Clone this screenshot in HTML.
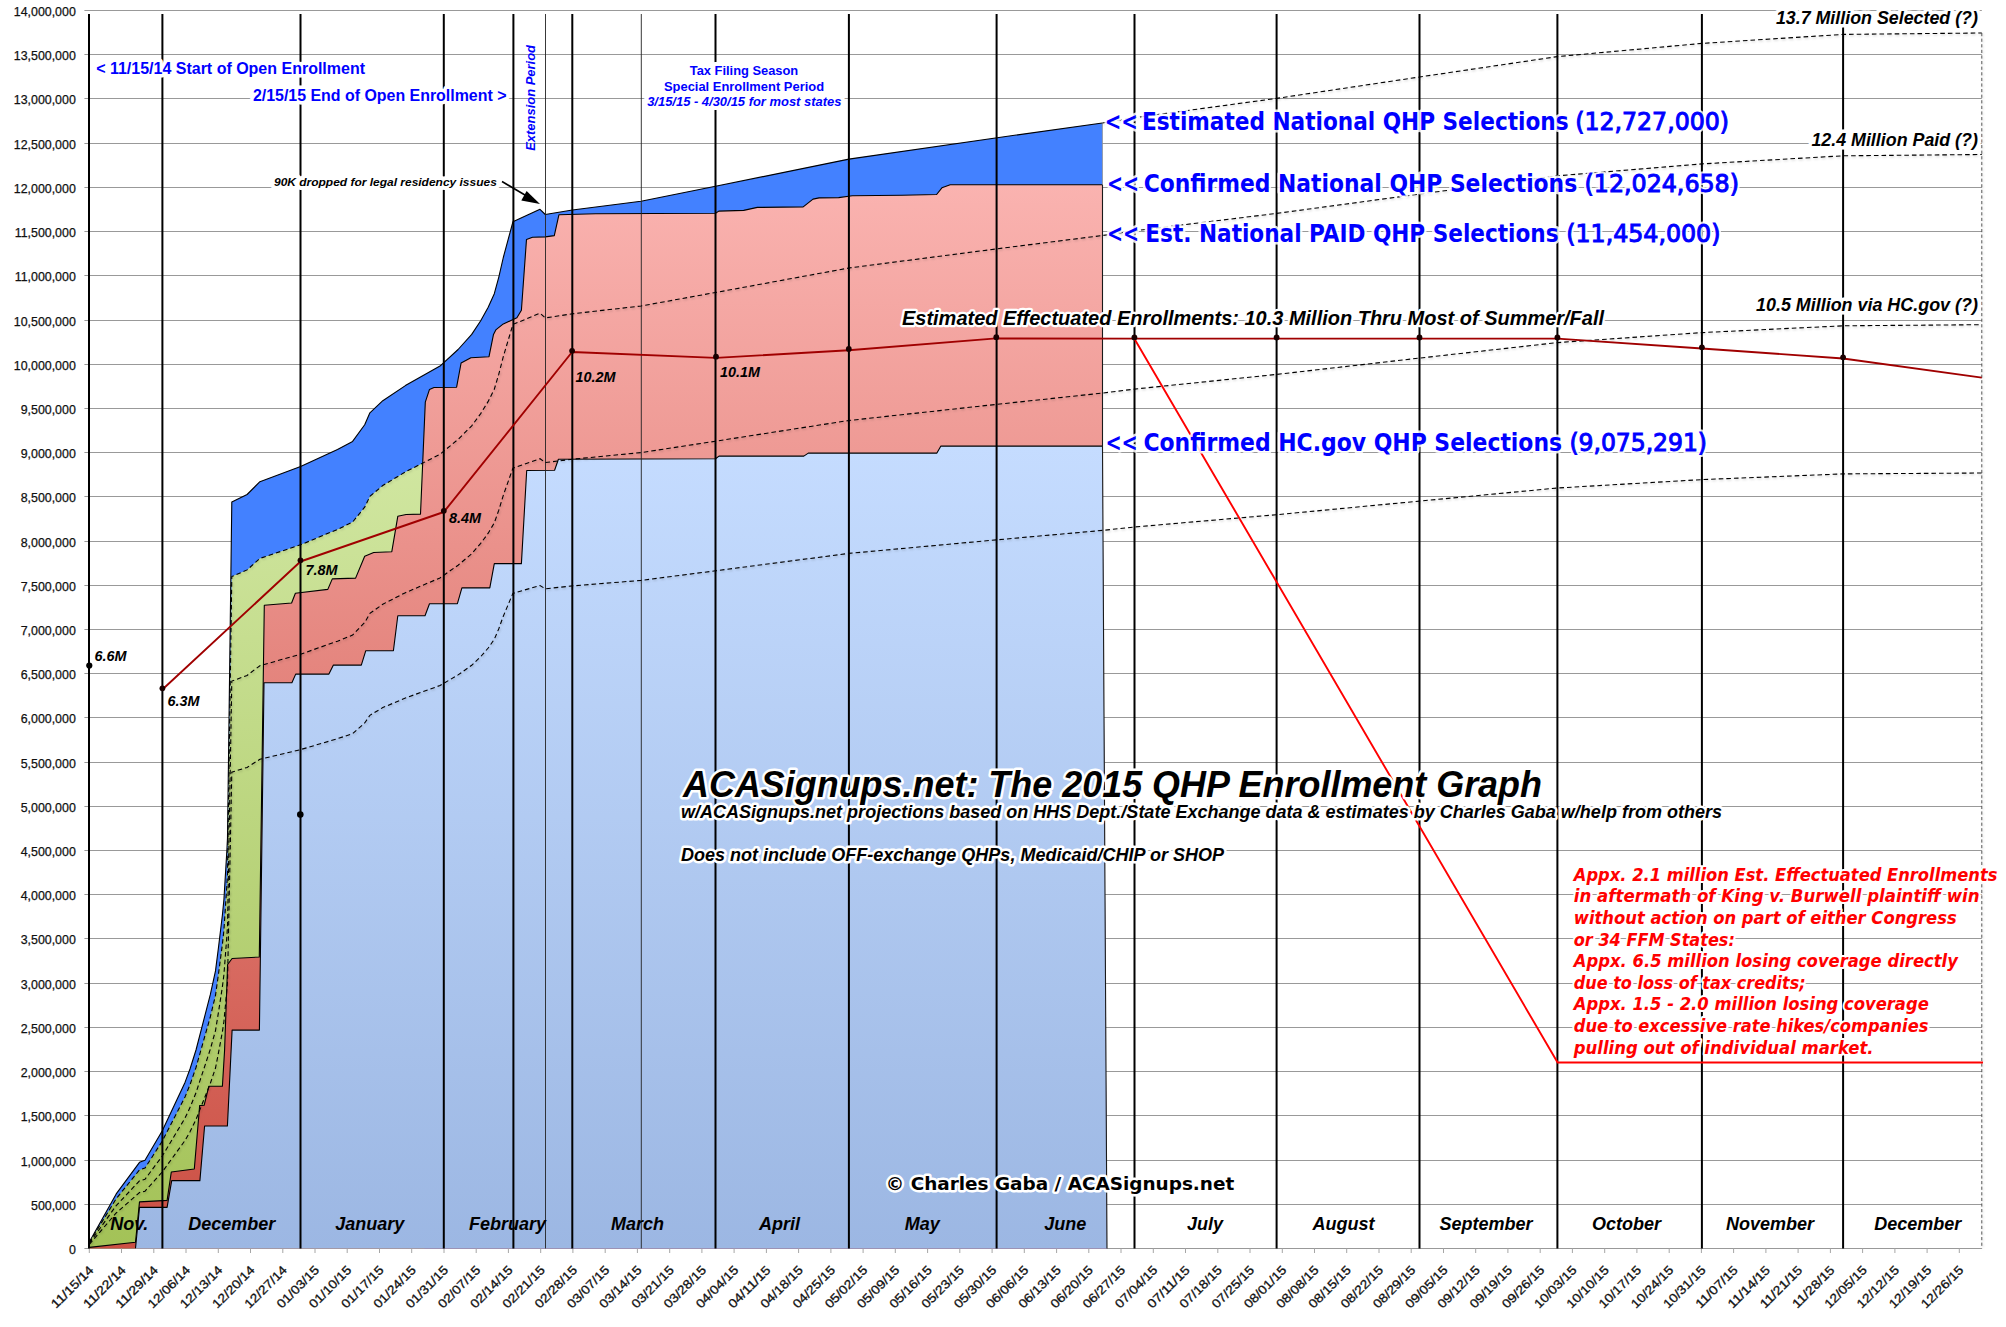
<!DOCTYPE html><html><head><meta charset="utf-8"><title>ACASignups.net: The 2015 QHP Enrollment Graph</title>
<style>html,body{margin:0;padding:0;background:#fff}svg{display:block}text{font-family:"Liberation Sans",sans-serif}.ax{font-size:12.4px;fill:#111;stroke:#111;stroke-width:0.25px}.xl{font-size:12.4px;fill:#111;stroke:#111;stroke-width:0.3px}.bi{font-weight:bold;font-style:italic}.lg{font-family:"DejaVu Sans","Liberation Sans",sans-serif;font-weight:bold}.halo{paint-order:stroke;stroke:#fff;stroke-linejoin:round}</style></head><body>
<svg width="2006" height="1327" viewBox="0 0 2006 1327">
<defs><linearGradient id="gR" gradientUnits="userSpaceOnUse" x1="0" y1="185" x2="0" y2="1248.45"><stop offset="0" stop-color="#FAB3B0"/><stop offset="1" stop-color="#CB4F43"/></linearGradient><linearGradient id="gB" gradientUnits="userSpaceOnUse" x1="0" y1="446" x2="0" y2="1248.45"><stop offset="0" stop-color="#C5DCFF"/><stop offset="1" stop-color="#9CB7E3"/></linearGradient><linearGradient id="gG" gradientUnits="userSpaceOnUse" x1="0" y1="465" x2="0" y2="1248.45"><stop offset="0" stop-color="#D0E6A0"/><stop offset="1" stop-color="#A3C257"/></linearGradient><filter id="sh" x="-5%" y="-50%" width="110%" height="200%"><feDropShadow dx="0.8" dy="1.2" stdDeviation="0.8" flood-color="#000" flood-opacity="0.22"/></filter></defs>
<rect width="2006" height="1327" fill="#fff"/>
<line x1="84.4" y1="1248.5" x2="1981.8" y2="1248.5" stroke="#999999" stroke-width="1.1"/><text class="ax" x="75.8" y="1254.1" text-anchor="end">0</text><line x1="84.4" y1="1204.5" x2="1981.8" y2="1204.5" stroke="#999999" stroke-width="1.1"/><text class="ax" x="75.8" y="1210.1" text-anchor="end">500,000</text><line x1="84.4" y1="1160.5" x2="1981.8" y2="1160.5" stroke="#999999" stroke-width="1.1"/><text class="ax" x="75.8" y="1166.1" text-anchor="end">1,000,000</text><line x1="84.4" y1="1115.5" x2="1981.8" y2="1115.5" stroke="#999999" stroke-width="1.1"/><text class="ax" x="75.8" y="1121.1" text-anchor="end">1,500,000</text><line x1="84.4" y1="1071.5" x2="1981.8" y2="1071.5" stroke="#999999" stroke-width="1.1"/><text class="ax" x="75.8" y="1077.1" text-anchor="end">2,000,000</text><line x1="84.4" y1="1027.5" x2="1981.8" y2="1027.5" stroke="#999999" stroke-width="1.1"/><text class="ax" x="75.8" y="1033.1" text-anchor="end">2,500,000</text><line x1="84.4" y1="983.5" x2="1981.8" y2="983.5" stroke="#999999" stroke-width="1.1"/><text class="ax" x="75.8" y="989.1" text-anchor="end">3,000,000</text><line x1="84.4" y1="938.5" x2="1981.8" y2="938.5" stroke="#999999" stroke-width="1.1"/><text class="ax" x="75.8" y="944.1" text-anchor="end">3,500,000</text><line x1="84.4" y1="894.5" x2="1981.8" y2="894.5" stroke="#999999" stroke-width="1.1"/><text class="ax" x="75.8" y="900.1" text-anchor="end">4,000,000</text><line x1="84.4" y1="850.5" x2="1981.8" y2="850.5" stroke="#999999" stroke-width="1.1"/><text class="ax" x="75.8" y="856.1" text-anchor="end">4,500,000</text><line x1="84.4" y1="806.5" x2="1981.8" y2="806.5" stroke="#999999" stroke-width="1.1"/><text class="ax" x="75.8" y="812.1" text-anchor="end">5,000,000</text><line x1="84.4" y1="762.5" x2="1981.8" y2="762.5" stroke="#999999" stroke-width="1.1"/><text class="ax" x="75.8" y="768.1" text-anchor="end">5,500,000</text><line x1="84.4" y1="717.5" x2="1981.8" y2="717.5" stroke="#999999" stroke-width="1.1"/><text class="ax" x="75.8" y="723.1" text-anchor="end">6,000,000</text><line x1="84.4" y1="673.5" x2="1981.8" y2="673.5" stroke="#999999" stroke-width="1.1"/><text class="ax" x="75.8" y="679.1" text-anchor="end">6,500,000</text><line x1="84.4" y1="629.5" x2="1981.8" y2="629.5" stroke="#999999" stroke-width="1.1"/><text class="ax" x="75.8" y="635.1" text-anchor="end">7,000,000</text><line x1="84.4" y1="585.5" x2="1981.8" y2="585.5" stroke="#999999" stroke-width="1.1"/><text class="ax" x="75.8" y="591.1" text-anchor="end">7,500,000</text><line x1="84.4" y1="541.5" x2="1981.8" y2="541.5" stroke="#999999" stroke-width="1.1"/><text class="ax" x="75.8" y="547.1" text-anchor="end">8,000,000</text><line x1="84.4" y1="496.5" x2="1981.8" y2="496.5" stroke="#999999" stroke-width="1.1"/><text class="ax" x="75.8" y="502.1" text-anchor="end">8,500,000</text><line x1="84.4" y1="452.5" x2="1981.8" y2="452.5" stroke="#999999" stroke-width="1.1"/><text class="ax" x="75.8" y="458.1" text-anchor="end">9,000,000</text><line x1="84.4" y1="408.5" x2="1981.8" y2="408.5" stroke="#999999" stroke-width="1.1"/><text class="ax" x="75.8" y="414.1" text-anchor="end">9,500,000</text><line x1="84.4" y1="364.5" x2="1981.8" y2="364.5" stroke="#999999" stroke-width="1.1"/><text class="ax" x="75.8" y="370.1" text-anchor="end">10,000,000</text><line x1="84.4" y1="320.5" x2="1981.8" y2="320.5" stroke="#999999" stroke-width="1.1"/><text class="ax" x="75.8" y="326.1" text-anchor="end">10,500,000</text><line x1="84.4" y1="275.5" x2="1981.8" y2="275.5" stroke="#999999" stroke-width="1.1"/><text class="ax" x="75.8" y="281.1" text-anchor="end">11,000,000</text><line x1="84.4" y1="231.5" x2="1981.8" y2="231.5" stroke="#999999" stroke-width="1.1"/><text class="ax" x="75.8" y="237.1" text-anchor="end">11,500,000</text><line x1="84.4" y1="187.5" x2="1981.8" y2="187.5" stroke="#999999" stroke-width="1.1"/><text class="ax" x="75.8" y="193.1" text-anchor="end">12,000,000</text><line x1="84.4" y1="143.5" x2="1981.8" y2="143.5" stroke="#999999" stroke-width="1.1"/><text class="ax" x="75.8" y="149.1" text-anchor="end">12,500,000</text><line x1="84.4" y1="98.5" x2="1981.8" y2="98.5" stroke="#999999" stroke-width="1.1"/><text class="ax" x="75.8" y="104.1" text-anchor="end">13,000,000</text><line x1="84.4" y1="54.5" x2="1981.8" y2="54.5" stroke="#999999" stroke-width="1.1"/><text class="ax" x="75.8" y="60.1" text-anchor="end">13,500,000</text><line x1="84.4" y1="10.5" x2="1981.8" y2="10.5" stroke="#999999" stroke-width="1.1"/><text class="ax" x="75.8" y="16.1" text-anchor="end">14,000,000</text>
<polygon points="89.3,1242.0 116.2,1193.9 139.5,1162.3 145.0,1160.3 162.3,1130.7 185.0,1082.4 190.0,1069.0 196.0,1050.0 210.3,994.7 215.5,970.9 218.6,946.5 222.4,915.0 223.9,899.7 226.9,850.0 227.5,838.0 231.8,502.0 247.1,494.5 259.9,481.7 300.6,466.6 337.5,449.5 352.6,441.4 364.7,424.8 369.9,412.8 382.8,400.7 405.4,385.6 440.0,366.1 458.1,349.5 471.7,334.4 480.7,320.8 488.2,307.3 494.3,293.7 498.8,277.1 503.3,257.5 512.9,221.8 540.0,209.3 545.3,214.5 572.4,210.0 641.0,201.3 715.5,186.3 848.9,159.1 997.2,137.7 1102.4,123.0 1102.5,446.1 1107.0,1248.5 89.3,1248.5" fill="#4381FF"/><polyline points="89.3,1242.0 116.2,1193.9 139.5,1162.3 145.0,1160.3 162.3,1130.7 185.0,1082.4 190.0,1069.0 196.0,1050.0 210.3,994.7 215.5,970.9 218.6,946.5 222.4,915.0 223.9,899.7 226.9,850.0 227.5,838.0 231.8,502.0 247.1,494.5 259.9,481.7 300.6,466.6 337.5,449.5 352.6,441.4 364.7,424.8 369.9,412.8 382.8,400.7 405.4,385.6 440.0,366.1 458.1,349.5 471.7,334.4 480.7,320.8 488.2,307.3 494.3,293.7 498.8,277.1 503.3,257.5 512.9,221.8 540.0,209.3 545.3,214.5 572.4,210.0 641.0,201.3 715.5,186.3 848.9,159.1 997.2,137.7 1102.4,123.0" fill="none" stroke="#000" stroke-width="1.1" stroke-linejoin="round"/>
<polygon points="89.3,1242.6 116.2,1198.7 139.5,1169.9 145.0,1168.1 162.3,1141.1 185.0,1097.0 190.0,1084.8 196.0,1067.5 210.3,1017.0 215.5,995.3 218.6,973.1 222.4,944.3 223.9,930.4 226.9,885.1 227.5,874.1 231.8,576.6 247.1,569.9 259.9,558.4 300.6,544.8 337.5,529.4 352.6,522.1 364.7,507.2 369.9,496.4 382.8,485.5 405.4,471.9 424.5,462.2 424.5,1248.5 89.3,1248.5" fill="url(#gG)"/>
<polygon points="89.3,1247.4 135.5,1242.2 139.5,1201.9 167.1,1200.4 171.3,1172.0 194.3,1169.0 199.5,1107.5 199.6,1105.6 204.1,1105.3 208.9,1086.2 222.4,1086.2 224.6,1050.0 227.6,964.5 232.1,958.5 259.3,957.0 264.3,605.2 291.6,603.0 295.4,593.2 327.8,589.4 332.3,578.9 355.6,578.1 364.7,556.3 373.7,552.5 391.8,551.7 397.8,516.3 406.1,514.5 420.5,514.1 425.3,402.2 429.5,389.4 434.0,387.5 456.6,387.2 461.1,363.0 470.9,357.8 489.0,356.7 493.5,334.4 495.8,329.9 503.3,323.9 516.9,317.8 521.4,310.3 526.5,239.4 532.5,237.2 545.3,236.9 554.3,235.6 558.9,214.8 595.8,213.8 715.5,213.2 718.8,211.1 743.7,210.4 757.3,207.4 803.2,206.9 813.0,199.1 819.1,197.9 838.7,197.6 852.2,195.7 902.0,195.3 936.6,194.5 941.9,187.8 950.2,184.8 1102.4,184.8 1102.5,446.1 1107.0,1248.5 89.3,1248.5" fill="url(#gR)"/><polyline points="89.3,1247.4 135.5,1242.2 139.5,1201.9 167.1,1200.4 171.3,1172.0 194.3,1169.0 199.5,1107.5 199.6,1105.6 204.1,1105.3 208.9,1086.2 222.4,1086.2 224.6,1050.0 227.6,964.5 232.1,958.5 259.3,957.0 264.3,605.2 291.6,603.0 295.4,593.2 327.8,589.4 332.3,578.9 355.6,578.1 364.7,556.3 373.7,552.5 391.8,551.7 397.8,516.3 406.1,514.5 420.5,514.1 425.3,402.2 429.5,389.4 434.0,387.5 456.6,387.2 461.1,363.0 470.9,357.8 489.0,356.7 493.5,334.4 495.8,329.9 503.3,323.9 516.9,317.8 521.4,310.3 526.5,239.4 532.5,237.2 545.3,236.9 554.3,235.6 558.9,214.8 595.8,213.8 715.5,213.2 718.8,211.1 743.7,210.4 757.3,207.4 803.2,206.9 813.0,199.1 819.1,197.9 838.7,197.6 852.2,195.7 902.0,195.3 936.6,194.5 941.9,187.8 950.2,184.8 1102.4,184.8" fill="none" stroke="#000" stroke-width="1.1" stroke-linejoin="round"/>
<polygon points="135.5,1248.2 139.5,1207.4 167.1,1207.4 171.7,1180.6 199.9,1180.6 204.6,1126.0 227.4,1126.0 232.1,1030.1 259.4,1030.1 264.0,682.8 291.9,682.8 295.7,674.1 328.9,674.1 333.4,665.1 361.3,665.1 365.8,650.7 393.4,650.7 397.8,615.8 425.0,615.8 429.5,603.7 457.4,603.7 461.9,587.9 489.8,587.9 494.3,563.6 521.4,563.6 526.7,470.5 554.6,470.2 558.4,459.2 715.5,458.8 719.0,456.1 803.8,456.1 808.3,453.1 936.9,453.1 940.9,446.1 1102.4,446.1 1102.5,446.1 1107.0,1248.5 135.5,1248.5" fill="url(#gB)"/><polyline points="135.5,1248.2 139.5,1207.4 167.1,1207.4 171.7,1180.6 199.9,1180.6 204.6,1126.0 227.4,1126.0 232.1,1030.1 259.4,1030.1 264.0,682.8 291.9,682.8 295.7,674.1 328.9,674.1 333.4,665.1 361.3,665.1 365.8,650.7 393.4,650.7 397.8,615.8 425.0,615.8 429.5,603.7 457.4,603.7 461.9,587.9 489.8,587.9 494.3,563.6 521.4,563.6 526.7,470.5 554.6,470.2 558.4,459.2 715.5,458.8 719.0,456.1 803.8,456.1 808.3,453.1 936.9,453.1 940.9,446.1 1102.4,446.1" fill="none" stroke="#000" stroke-width="1.1" stroke-linejoin="round"/>
<line x1="1102.4" y1="123" x2="1102.5" y2="184.8" stroke="#8a8f98" stroke-width="0.8"/>
<polyline points="1102.5,184.8 1102.5,446.1 1107,1248.45" fill="none" stroke="#1a1a1a" stroke-width="1.1"/>
<line x1="89.3" y1="1248.45" x2="89.3" y2="1253.0" stroke="#a6a6a6" stroke-width="1"/><text class="xl" textLength="54" lengthAdjust="spacingAndGlyphs" transform="translate(94.3,1270.9) rotate(-45) translate(-54,0)">11/15/14</text><line x1="121.5" y1="1248.45" x2="121.5" y2="1253.0" stroke="#a6a6a6" stroke-width="1"/><text class="xl" textLength="54" lengthAdjust="spacingAndGlyphs" transform="translate(126.5,1270.9) rotate(-45) translate(-54,0)">11/22/14</text><line x1="153.8" y1="1248.45" x2="153.8" y2="1253.0" stroke="#a6a6a6" stroke-width="1"/><text class="xl" textLength="54" lengthAdjust="spacingAndGlyphs" transform="translate(158.8,1270.9) rotate(-45) translate(-54,0)">11/29/14</text><line x1="186.0" y1="1248.45" x2="186.0" y2="1253.0" stroke="#a6a6a6" stroke-width="1"/><text class="xl" textLength="54" lengthAdjust="spacingAndGlyphs" transform="translate(191.0,1270.9) rotate(-45) translate(-54,0)">12/06/14</text><line x1="218.3" y1="1248.45" x2="218.3" y2="1253.0" stroke="#a6a6a6" stroke-width="1"/><text class="xl" textLength="54" lengthAdjust="spacingAndGlyphs" transform="translate(223.3,1270.9) rotate(-45) translate(-54,0)">12/13/14</text><line x1="250.5" y1="1248.45" x2="250.5" y2="1253.0" stroke="#a6a6a6" stroke-width="1"/><text class="xl" textLength="54" lengthAdjust="spacingAndGlyphs" transform="translate(255.5,1270.9) rotate(-45) translate(-54,0)">12/20/14</text><line x1="282.8" y1="1248.45" x2="282.8" y2="1253.0" stroke="#a6a6a6" stroke-width="1"/><text class="xl" textLength="54" lengthAdjust="spacingAndGlyphs" transform="translate(287.8,1270.9) rotate(-45) translate(-54,0)">12/27/14</text><line x1="315.0" y1="1248.45" x2="315.0" y2="1253.0" stroke="#a6a6a6" stroke-width="1"/><text class="xl" textLength="54" lengthAdjust="spacingAndGlyphs" transform="translate(320.0,1270.9) rotate(-45) translate(-54,0)">01/03/15</text><line x1="347.2" y1="1248.45" x2="347.2" y2="1253.0" stroke="#a6a6a6" stroke-width="1"/><text class="xl" textLength="54" lengthAdjust="spacingAndGlyphs" transform="translate(352.2,1270.9) rotate(-45) translate(-54,0)">01/10/15</text><line x1="379.5" y1="1248.45" x2="379.5" y2="1253.0" stroke="#a6a6a6" stroke-width="1"/><text class="xl" textLength="54" lengthAdjust="spacingAndGlyphs" transform="translate(384.5,1270.9) rotate(-45) translate(-54,0)">01/17/15</text><line x1="411.7" y1="1248.45" x2="411.7" y2="1253.0" stroke="#a6a6a6" stroke-width="1"/><text class="xl" textLength="54" lengthAdjust="spacingAndGlyphs" transform="translate(416.7,1270.9) rotate(-45) translate(-54,0)">01/24/15</text><line x1="444.0" y1="1248.45" x2="444.0" y2="1253.0" stroke="#a6a6a6" stroke-width="1"/><text class="xl" textLength="54" lengthAdjust="spacingAndGlyphs" transform="translate(449.0,1270.9) rotate(-45) translate(-54,0)">01/31/15</text><line x1="476.2" y1="1248.45" x2="476.2" y2="1253.0" stroke="#a6a6a6" stroke-width="1"/><text class="xl" textLength="54" lengthAdjust="spacingAndGlyphs" transform="translate(481.2,1270.9) rotate(-45) translate(-54,0)">02/07/15</text><line x1="508.4" y1="1248.45" x2="508.4" y2="1253.0" stroke="#a6a6a6" stroke-width="1"/><text class="xl" textLength="54" lengthAdjust="spacingAndGlyphs" transform="translate(513.4,1270.9) rotate(-45) translate(-54,0)">02/14/15</text><line x1="540.7" y1="1248.45" x2="540.7" y2="1253.0" stroke="#a6a6a6" stroke-width="1"/><text class="xl" textLength="54" lengthAdjust="spacingAndGlyphs" transform="translate(545.7,1270.9) rotate(-45) translate(-54,0)">02/21/15</text><line x1="572.9" y1="1248.45" x2="572.9" y2="1253.0" stroke="#a6a6a6" stroke-width="1"/><text class="xl" textLength="54" lengthAdjust="spacingAndGlyphs" transform="translate(577.9,1270.9) rotate(-45) translate(-54,0)">02/28/15</text><line x1="605.2" y1="1248.45" x2="605.2" y2="1253.0" stroke="#a6a6a6" stroke-width="1"/><text class="xl" textLength="54" lengthAdjust="spacingAndGlyphs" transform="translate(610.2,1270.9) rotate(-45) translate(-54,0)">03/07/15</text><line x1="637.4" y1="1248.45" x2="637.4" y2="1253.0" stroke="#a6a6a6" stroke-width="1"/><text class="xl" textLength="54" lengthAdjust="spacingAndGlyphs" transform="translate(642.4,1270.9) rotate(-45) translate(-54,0)">03/14/15</text><line x1="669.7" y1="1248.45" x2="669.7" y2="1253.0" stroke="#a6a6a6" stroke-width="1"/><text class="xl" textLength="54" lengthAdjust="spacingAndGlyphs" transform="translate(674.7,1270.9) rotate(-45) translate(-54,0)">03/21/15</text><line x1="701.9" y1="1248.45" x2="701.9" y2="1253.0" stroke="#a6a6a6" stroke-width="1"/><text class="xl" textLength="54" lengthAdjust="spacingAndGlyphs" transform="translate(706.9,1270.9) rotate(-45) translate(-54,0)">03/28/15</text><line x1="734.1" y1="1248.45" x2="734.1" y2="1253.0" stroke="#a6a6a6" stroke-width="1"/><text class="xl" textLength="54" lengthAdjust="spacingAndGlyphs" transform="translate(739.1,1270.9) rotate(-45) translate(-54,0)">04/04/15</text><line x1="766.4" y1="1248.45" x2="766.4" y2="1253.0" stroke="#a6a6a6" stroke-width="1"/><text class="xl" textLength="54" lengthAdjust="spacingAndGlyphs" transform="translate(771.4,1270.9) rotate(-45) translate(-54,0)">04/11/15</text><line x1="798.6" y1="1248.45" x2="798.6" y2="1253.0" stroke="#a6a6a6" stroke-width="1"/><text class="xl" textLength="54" lengthAdjust="spacingAndGlyphs" transform="translate(803.6,1270.9) rotate(-45) translate(-54,0)">04/18/15</text><line x1="830.9" y1="1248.45" x2="830.9" y2="1253.0" stroke="#a6a6a6" stroke-width="1"/><text class="xl" textLength="54" lengthAdjust="spacingAndGlyphs" transform="translate(835.9,1270.9) rotate(-45) translate(-54,0)">04/25/15</text><line x1="863.1" y1="1248.45" x2="863.1" y2="1253.0" stroke="#a6a6a6" stroke-width="1"/><text class="xl" textLength="54" lengthAdjust="spacingAndGlyphs" transform="translate(868.1,1270.9) rotate(-45) translate(-54,0)">05/02/15</text><line x1="895.3" y1="1248.45" x2="895.3" y2="1253.0" stroke="#a6a6a6" stroke-width="1"/><text class="xl" textLength="54" lengthAdjust="spacingAndGlyphs" transform="translate(900.3,1270.9) rotate(-45) translate(-54,0)">05/09/15</text><line x1="927.6" y1="1248.45" x2="927.6" y2="1253.0" stroke="#a6a6a6" stroke-width="1"/><text class="xl" textLength="54" lengthAdjust="spacingAndGlyphs" transform="translate(932.6,1270.9) rotate(-45) translate(-54,0)">05/16/15</text><line x1="959.8" y1="1248.45" x2="959.8" y2="1253.0" stroke="#a6a6a6" stroke-width="1"/><text class="xl" textLength="54" lengthAdjust="spacingAndGlyphs" transform="translate(964.8,1270.9) rotate(-45) translate(-54,0)">05/23/15</text><line x1="992.1" y1="1248.45" x2="992.1" y2="1253.0" stroke="#a6a6a6" stroke-width="1"/><text class="xl" textLength="54" lengthAdjust="spacingAndGlyphs" transform="translate(997.1,1270.9) rotate(-45) translate(-54,0)">05/30/15</text><line x1="1024.3" y1="1248.45" x2="1024.3" y2="1253.0" stroke="#a6a6a6" stroke-width="1"/><text class="xl" textLength="54" lengthAdjust="spacingAndGlyphs" transform="translate(1029.3,1270.9) rotate(-45) translate(-54,0)">06/06/15</text><line x1="1056.6" y1="1248.45" x2="1056.6" y2="1253.0" stroke="#a6a6a6" stroke-width="1"/><text class="xl" textLength="54" lengthAdjust="spacingAndGlyphs" transform="translate(1061.6,1270.9) rotate(-45) translate(-54,0)">06/13/15</text><line x1="1088.8" y1="1248.45" x2="1088.8" y2="1253.0" stroke="#a6a6a6" stroke-width="1"/><text class="xl" textLength="54" lengthAdjust="spacingAndGlyphs" transform="translate(1093.8,1270.9) rotate(-45) translate(-54,0)">06/20/15</text><line x1="1121.0" y1="1248.45" x2="1121.0" y2="1253.0" stroke="#a6a6a6" stroke-width="1"/><text class="xl" textLength="54" lengthAdjust="spacingAndGlyphs" transform="translate(1126.0,1270.9) rotate(-45) translate(-54,0)">06/27/15</text><line x1="1153.3" y1="1248.45" x2="1153.3" y2="1253.0" stroke="#a6a6a6" stroke-width="1"/><text class="xl" textLength="54" lengthAdjust="spacingAndGlyphs" transform="translate(1158.3,1270.9) rotate(-45) translate(-54,0)">07/04/15</text><line x1="1185.5" y1="1248.45" x2="1185.5" y2="1253.0" stroke="#a6a6a6" stroke-width="1"/><text class="xl" textLength="54" lengthAdjust="spacingAndGlyphs" transform="translate(1190.5,1270.9) rotate(-45) translate(-54,0)">07/11/15</text><line x1="1217.8" y1="1248.45" x2="1217.8" y2="1253.0" stroke="#a6a6a6" stroke-width="1"/><text class="xl" textLength="54" lengthAdjust="spacingAndGlyphs" transform="translate(1222.8,1270.9) rotate(-45) translate(-54,0)">07/18/15</text><line x1="1250.0" y1="1248.45" x2="1250.0" y2="1253.0" stroke="#a6a6a6" stroke-width="1"/><text class="xl" textLength="54" lengthAdjust="spacingAndGlyphs" transform="translate(1255.0,1270.9) rotate(-45) translate(-54,0)">07/25/15</text><line x1="1282.3" y1="1248.45" x2="1282.3" y2="1253.0" stroke="#a6a6a6" stroke-width="1"/><text class="xl" textLength="54" lengthAdjust="spacingAndGlyphs" transform="translate(1287.3,1270.9) rotate(-45) translate(-54,0)">08/01/15</text><line x1="1314.5" y1="1248.45" x2="1314.5" y2="1253.0" stroke="#a6a6a6" stroke-width="1"/><text class="xl" textLength="54" lengthAdjust="spacingAndGlyphs" transform="translate(1319.5,1270.9) rotate(-45) translate(-54,0)">08/08/15</text><line x1="1346.7" y1="1248.45" x2="1346.7" y2="1253.0" stroke="#a6a6a6" stroke-width="1"/><text class="xl" textLength="54" lengthAdjust="spacingAndGlyphs" transform="translate(1351.7,1270.9) rotate(-45) translate(-54,0)">08/15/15</text><line x1="1379.0" y1="1248.45" x2="1379.0" y2="1253.0" stroke="#a6a6a6" stroke-width="1"/><text class="xl" textLength="54" lengthAdjust="spacingAndGlyphs" transform="translate(1384.0,1270.9) rotate(-45) translate(-54,0)">08/22/15</text><line x1="1411.2" y1="1248.45" x2="1411.2" y2="1253.0" stroke="#a6a6a6" stroke-width="1"/><text class="xl" textLength="54" lengthAdjust="spacingAndGlyphs" transform="translate(1416.2,1270.9) rotate(-45) translate(-54,0)">08/29/15</text><line x1="1443.5" y1="1248.45" x2="1443.5" y2="1253.0" stroke="#a6a6a6" stroke-width="1"/><text class="xl" textLength="54" lengthAdjust="spacingAndGlyphs" transform="translate(1448.5,1270.9) rotate(-45) translate(-54,0)">09/05/15</text><line x1="1475.7" y1="1248.45" x2="1475.7" y2="1253.0" stroke="#a6a6a6" stroke-width="1"/><text class="xl" textLength="54" lengthAdjust="spacingAndGlyphs" transform="translate(1480.7,1270.9) rotate(-45) translate(-54,0)">09/12/15</text><line x1="1507.9" y1="1248.45" x2="1507.9" y2="1253.0" stroke="#a6a6a6" stroke-width="1"/><text class="xl" textLength="54" lengthAdjust="spacingAndGlyphs" transform="translate(1512.9,1270.9) rotate(-45) translate(-54,0)">09/19/15</text><line x1="1540.2" y1="1248.45" x2="1540.2" y2="1253.0" stroke="#a6a6a6" stroke-width="1"/><text class="xl" textLength="54" lengthAdjust="spacingAndGlyphs" transform="translate(1545.2,1270.9) rotate(-45) translate(-54,0)">09/26/15</text><line x1="1572.4" y1="1248.45" x2="1572.4" y2="1253.0" stroke="#a6a6a6" stroke-width="1"/><text class="xl" textLength="54" lengthAdjust="spacingAndGlyphs" transform="translate(1577.4,1270.9) rotate(-45) translate(-54,0)">10/03/15</text><line x1="1604.7" y1="1248.45" x2="1604.7" y2="1253.0" stroke="#a6a6a6" stroke-width="1"/><text class="xl" textLength="54" lengthAdjust="spacingAndGlyphs" transform="translate(1609.7,1270.9) rotate(-45) translate(-54,0)">10/10/15</text><line x1="1636.9" y1="1248.45" x2="1636.9" y2="1253.0" stroke="#a6a6a6" stroke-width="1"/><text class="xl" textLength="54" lengthAdjust="spacingAndGlyphs" transform="translate(1641.9,1270.9) rotate(-45) translate(-54,0)">10/17/15</text><line x1="1669.2" y1="1248.45" x2="1669.2" y2="1253.0" stroke="#a6a6a6" stroke-width="1"/><text class="xl" textLength="54" lengthAdjust="spacingAndGlyphs" transform="translate(1674.2,1270.9) rotate(-45) translate(-54,0)">10/24/15</text><line x1="1701.4" y1="1248.45" x2="1701.4" y2="1253.0" stroke="#a6a6a6" stroke-width="1"/><text class="xl" textLength="54" lengthAdjust="spacingAndGlyphs" transform="translate(1706.4,1270.9) rotate(-45) translate(-54,0)">10/31/15</text><line x1="1733.6" y1="1248.45" x2="1733.6" y2="1253.0" stroke="#a6a6a6" stroke-width="1"/><text class="xl" textLength="54" lengthAdjust="spacingAndGlyphs" transform="translate(1738.6,1270.9) rotate(-45) translate(-54,0)">11/07/15</text><line x1="1765.9" y1="1248.45" x2="1765.9" y2="1253.0" stroke="#a6a6a6" stroke-width="1"/><text class="xl" textLength="54" lengthAdjust="spacingAndGlyphs" transform="translate(1770.9,1270.9) rotate(-45) translate(-54,0)">11/14/15</text><line x1="1798.1" y1="1248.45" x2="1798.1" y2="1253.0" stroke="#a6a6a6" stroke-width="1"/><text class="xl" textLength="54" lengthAdjust="spacingAndGlyphs" transform="translate(1803.1,1270.9) rotate(-45) translate(-54,0)">11/21/15</text><line x1="1830.4" y1="1248.45" x2="1830.4" y2="1253.0" stroke="#a6a6a6" stroke-width="1"/><text class="xl" textLength="54" lengthAdjust="spacingAndGlyphs" transform="translate(1835.4,1270.9) rotate(-45) translate(-54,0)">11/28/15</text><line x1="1862.6" y1="1248.45" x2="1862.6" y2="1253.0" stroke="#a6a6a6" stroke-width="1"/><text class="xl" textLength="54" lengthAdjust="spacingAndGlyphs" transform="translate(1867.6,1270.9) rotate(-45) translate(-54,0)">12/05/15</text><line x1="1894.9" y1="1248.45" x2="1894.9" y2="1253.0" stroke="#a6a6a6" stroke-width="1"/><text class="xl" textLength="54" lengthAdjust="spacingAndGlyphs" transform="translate(1899.9,1270.9) rotate(-45) translate(-54,0)">12/12/15</text><line x1="1927.1" y1="1248.45" x2="1927.1" y2="1253.0" stroke="#a6a6a6" stroke-width="1"/><text class="xl" textLength="54" lengthAdjust="spacingAndGlyphs" transform="translate(1932.1,1270.9) rotate(-45) translate(-54,0)">12/19/15</text><line x1="1959.3" y1="1248.45" x2="1959.3" y2="1253.0" stroke="#a6a6a6" stroke-width="1"/><text class="xl" textLength="54" lengthAdjust="spacingAndGlyphs" transform="translate(1964.3,1270.9) rotate(-45) translate(-54,0)">12/26/15</text>
<line x1="89.0" y1="14" x2="89.0" y2="1248.45" stroke="#000" stroke-width="2"/><line x1="162.4" y1="14" x2="162.4" y2="1248.45" stroke="#000" stroke-width="2"/><line x1="300.5" y1="14" x2="300.5" y2="1248.45" stroke="#000" stroke-width="2"/><line x1="443.8" y1="14" x2="443.8" y2="1248.45" stroke="#000" stroke-width="2"/><line x1="513.4" y1="14" x2="513.4" y2="1248.45" stroke="#000" stroke-width="2"/><line x1="572.3" y1="14" x2="572.3" y2="1248.45" stroke="#000" stroke-width="2"/><line x1="715.5" y1="14" x2="715.5" y2="1248.45" stroke="#000" stroke-width="2"/><line x1="848.9" y1="14" x2="848.9" y2="1248.45" stroke="#000" stroke-width="2"/><line x1="996.6" y1="14" x2="996.6" y2="1248.45" stroke="#000" stroke-width="2"/><line x1="1134.5" y1="14" x2="1134.5" y2="1248.45" stroke="#000" stroke-width="2"/><line x1="1276.6" y1="14" x2="1276.6" y2="1248.45" stroke="#000" stroke-width="2"/><line x1="1419.5" y1="14" x2="1419.5" y2="1248.45" stroke="#000" stroke-width="2"/><line x1="1557.4" y1="14" x2="1557.4" y2="1248.45" stroke="#000" stroke-width="2"/><line x1="1701.9" y1="14" x2="1701.9" y2="1248.45" stroke="#000" stroke-width="2"/><line x1="1843.1" y1="14" x2="1843.1" y2="1248.45" stroke="#000" stroke-width="2"/><line x1="545.5" y1="14" x2="545.5" y2="1248.45" stroke="#222" stroke-width="0.9"/><line x1="641.3" y1="14" x2="641.3" y2="1248.45" stroke="#222" stroke-width="0.9"/>
<g filter="url(#sh)">
<polyline points="1102.4,123.0 1134.5,117.7 1276.6,98.4 1419.5,77.0 1557.4,56.6 1701.9,43.4 1843.1,34.4 1981.8,33.0" fill="none" stroke="#000" stroke-width="1.1" stroke-dasharray="4.6 3"/>
<polyline points="89.3,1242.6 116.2,1198.7 139.5,1169.9 145.0,1168.1 162.3,1141.1 185.0,1097.0 190.0,1084.8 196.0,1067.5 210.3,1017.0 215.5,995.3 218.6,973.1 222.4,944.3 223.9,930.4 226.9,885.1 227.5,874.1 231.8,576.6 247.1,569.9 259.9,558.4 300.6,544.8 337.5,529.4 352.6,522.1 364.7,507.2 369.9,496.4 382.8,485.5 405.4,471.9 440.0,454.3 458.1,439.4 471.7,425.8 480.7,413.6 488.2,401.4 494.3,389.2 498.8,374.2 503.3,356.6 512.9,324.5 540.0,313.2 545.3,317.9 572.4,313.8 641.0,306.0 715.5,292.5 848.9,268.0 997.2,248.8 1102.4,235.5 1134.5,230.8 1276.6,213.4 1419.5,194.1 1557.4,175.8 1701.9,163.9 1843.1,155.8 1981.8,154.5" fill="none" stroke="#000" stroke-width="1.1" stroke-dasharray="4.6 3"/>
<polyline points="89.3,1243.4 116.2,1205.6 139.5,1180.8 145.0,1179.3 162.3,1156.0 185.0,1118.1 190.0,1107.6 196.0,1092.7 210.3,1049.3 215.5,1030.6 218.6,1011.4 222.4,986.7 223.9,974.7 226.9,935.7 227.5,926.2 231.8,681.1 247.1,675.4 259.9,665.7 300.6,654.2 337.5,641.2 352.6,635.1 364.7,622.5 369.9,613.4 382.8,604.2 405.4,592.7 440.0,577.9 458.1,565.2 471.7,553.8 480.7,543.4 488.2,533.2 494.3,522.8 498.8,510.2 503.3,495.3 512.9,468.2 540.0,458.7 545.3,462.6 572.4,459.2 641.0,452.6 715.5,441.2 848.9,420.5 997.2,404.3 1102.4,393.1 1134.5,389.1 1276.6,374.4 1419.5,358.1 1557.4,342.6 1701.9,332.6 1843.1,325.8 1981.8,324.7" fill="none" stroke="#000" stroke-width="1.1" stroke-dasharray="4.6 3"/>
<polyline points="89.3,1244.3 116.2,1213.0 139.5,1192.5 145.0,1191.2 162.3,1171.9 185.0,1140.5 190.0,1131.8 196.0,1119.5 210.3,1083.5 215.5,1068.0 218.6,1052.2 222.4,1031.7 223.9,1021.8 226.9,989.5 227.5,981.7 231.8,772.2 247.1,767.4 259.9,759.3 300.6,749.6 337.5,738.7 352.6,733.6 364.7,723.0 369.9,715.3 382.8,707.6 405.4,698.0 440.0,685.5 458.1,674.9 471.7,665.3 480.7,656.6 488.2,648.0 494.3,639.3 498.8,628.7 503.3,616.2 512.9,593.4 540.0,585.5 545.3,588.8 572.4,585.9 641.0,580.4 715.5,570.8 848.9,553.4 997.2,539.8 1102.4,530.4 1134.5,527.0 1276.6,514.7 1419.5,501.1 1557.4,488.0 1701.9,479.6 1843.1,473.9 1981.8,473.0" fill="none" stroke="#000" stroke-width="1.1" stroke-dasharray="4.6 3"/>
<line x1="1981.8" y1="33" x2="1981.8" y2="1248.45" stroke="#444" stroke-width="0.9" stroke-dasharray="3.2 2.4"/>
</g>
<polyline points="1134.4,338.8 1557.6,1062.5 1983.0,1062.5" fill="none" stroke="#FF0000" stroke-width="1.9"/>
<polyline points="162.4,689.5 300.5,561.5 443.8,512.0 572.1,352.0 716.0,357.9 848.8,350.2 996.3,338.4 1134.4,338.6 1276.6,338.6 1419.5,338.6 1557.4,338.6 1701.9,348.5 1843.1,358.5 1981.8,377.6" fill="none" stroke="#A00000" stroke-width="1.9" stroke-linejoin="round"/>
<circle cx="162.4" cy="688.3" r="2.9" fill="#1a0000"/><circle cx="300.5" cy="560.3" r="2.9" fill="#1a0000"/><circle cx="443.8" cy="510.8" r="2.9" fill="#1a0000"/><circle cx="572.1" cy="350.8" r="2.9" fill="#1a0000"/><circle cx="716" cy="356.7" r="2.9" fill="#1a0000"/><circle cx="848.8" cy="349.0" r="2.9" fill="#1a0000"/><circle cx="996.3" cy="337.2" r="2.9" fill="#1a0000"/><circle cx="1134.4" cy="337.4" r="2.9" fill="#1a0000"/><circle cx="1276.6" cy="337.4" r="2.9" fill="#1a0000"/><circle cx="1419.5" cy="337.4" r="2.9" fill="#1a0000"/><circle cx="1557.4" cy="337.4" r="2.9" fill="#1a0000"/><circle cx="1701.9" cy="347.3" r="2.9" fill="#1a0000"/><circle cx="1843.1" cy="357.3" r="2.9" fill="#1a0000"/><circle cx="89.3" cy="665.5" r="3.1" fill="#000"/><circle cx="300.3" cy="814.6" r="3.3" fill="#000"/>
<line x1="502" y1="181.5" x2="530" y2="198" stroke="#000" stroke-width="1.6"/>
<polygon points="540,204 521.3,200.5 526.6,191.0" fill="#000"/>
<text class="halo" x="96.2" y="74" textLength="268.8" lengthAdjust="spacingAndGlyphs" style="font-size:16px;fill:#0000FF;stroke-width:7px" font-weight="bold">&lt; 11/15/14 Start of Open Enrollment</text>
<text class="halo" x="252.9" y="100.5" textLength="253.6" lengthAdjust="spacingAndGlyphs" style="font-size:16px;fill:#0000FF;stroke-width:7px" font-weight="bold">2/15/15 End of Open Enrollment &gt;</text>
<text class="bi" transform="translate(534.6,150.8) rotate(-90)" textLength="105.8" lengthAdjust="spacingAndGlyphs" style="font-size:13px;fill:#0000FF;stroke-width:5px">Extension Period</text>
<text class="halo" x="744" y="74.9" text-anchor="middle" textLength="108.5" lengthAdjust="spacingAndGlyphs" style="font-size:12.5px;fill:#0000FF;stroke-width:8px" font-weight="bold">Tax Filing Season</text>
<text class="halo" x="744" y="90.9" text-anchor="middle" textLength="160.1" lengthAdjust="spacingAndGlyphs" style="font-size:12.5px;fill:#0000FF;stroke-width:8px" font-weight="bold">Special Enrollment Period</text>
<text class="bi halo" x="744.3" y="105.9" text-anchor="middle" textLength="194.3" lengthAdjust="spacingAndGlyphs" style="font-size:12.5px;fill:#0000FF;stroke-width:8px" >3/15/15 - 4/30/15 for most states</text>
<text class="bi halo" x="274" y="185.5" textLength="222.8" lengthAdjust="spacingAndGlyphs" style="font-size:11.8px;fill:#000;stroke-width:8px" >90K dropped for legal residency issues</text>
<text class="lg" x="1104.7" y="130" textLength="33.1" lengthAdjust="spacingAndGlyphs" style="font-size:24px;font-stretch:condensed;fill:#fff;stroke:#fff;stroke-width:5px;stroke-linejoin:round;opacity:0.85">&lt;&lt;</text><text class="lg" x="1141.9" y="130" textLength="426.7" lengthAdjust="spacingAndGlyphs" style="font-size:24px;font-stretch:condensed;fill:#fff;stroke:#fff;stroke-width:5px;stroke-linejoin:round;opacity:0.85">Estimated National QHP Selections</text><text class="lg" x="1575.2" y="130" textLength="153.8" lengthAdjust="spacingAndGlyphs" style="font-size:24px;font-weight:normal;font-stretch:condensed;fill:#fff;stroke:#fff;stroke-width:5px;stroke-linejoin:round;opacity:0.85">(12,727,000)</text><text class="lg" x="1104.7" y="130" textLength="33.1" lengthAdjust="spacingAndGlyphs" style="font-size:24px;font-stretch:condensed;fill:#0000FF">&lt;&lt;</text><text class="lg" x="1141.9" y="130" textLength="426.7" lengthAdjust="spacingAndGlyphs" style="font-size:24px;font-stretch:condensed;fill:#0000FF">Estimated National QHP Selections</text><text class="lg" x="1575.2" y="130" textLength="153.8" lengthAdjust="spacingAndGlyphs" style="font-size:24px;font-weight:normal;font-stretch:condensed;fill:#0000FF;stroke:#0000FF;stroke-width:0.9px">(12,727,000)</text>
<text class="lg" x="1107.0" y="192.2" textLength="32.0" lengthAdjust="spacingAndGlyphs" style="font-size:24px;font-stretch:condensed;fill:#fff;stroke:#fff;stroke-width:5px;stroke-linejoin:round;opacity:0.85">&lt;&lt;</text><text class="lg" x="1143.7" y="192.2" textLength="433.5" lengthAdjust="spacingAndGlyphs" style="font-size:24px;font-stretch:condensed;fill:#fff;stroke:#fff;stroke-width:5px;stroke-linejoin:round;opacity:0.85">Confirmed National QHP Selections</text><text class="lg" x="1584.5" y="192.2" textLength="154.5" lengthAdjust="spacingAndGlyphs" style="font-size:24px;font-weight:normal;font-stretch:condensed;fill:#fff;stroke:#fff;stroke-width:5px;stroke-linejoin:round;opacity:0.85">(12,024,658)</text><text class="lg" x="1107.0" y="192.2" textLength="32.0" lengthAdjust="spacingAndGlyphs" style="font-size:24px;font-stretch:condensed;fill:#0000FF">&lt;&lt;</text><text class="lg" x="1143.7" y="192.2" textLength="433.5" lengthAdjust="spacingAndGlyphs" style="font-size:24px;font-stretch:condensed;fill:#0000FF">Confirmed National QHP Selections</text><text class="lg" x="1584.5" y="192.2" textLength="154.5" lengthAdjust="spacingAndGlyphs" style="font-size:24px;font-weight:normal;font-stretch:condensed;fill:#0000FF;stroke:#0000FF;stroke-width:0.9px">(12,024,658)</text>
<text class="lg" x="1107.0" y="241.5" textLength="32.0" lengthAdjust="spacingAndGlyphs" style="font-size:24px;font-stretch:condensed;fill:#fff;stroke:#fff;stroke-width:5px;stroke-linejoin:round;opacity:0.85">&lt;&lt;</text><text class="lg" x="1145.3" y="241.5" textLength="413.3" lengthAdjust="spacingAndGlyphs" style="font-size:24px;font-stretch:condensed;fill:#fff;stroke:#fff;stroke-width:5px;stroke-linejoin:round;opacity:0.85">Est. National PAID QHP Selections</text><text class="lg" x="1566.3" y="241.5" textLength="154.1" lengthAdjust="spacingAndGlyphs" style="font-size:24px;font-weight:normal;font-stretch:condensed;fill:#fff;stroke:#fff;stroke-width:5px;stroke-linejoin:round;opacity:0.85">(11,454,000)</text><text class="lg" x="1107.0" y="241.5" textLength="32.0" lengthAdjust="spacingAndGlyphs" style="font-size:24px;font-stretch:condensed;fill:#0000FF">&lt;&lt;</text><text class="lg" x="1145.3" y="241.5" textLength="413.3" lengthAdjust="spacingAndGlyphs" style="font-size:24px;font-stretch:condensed;fill:#0000FF">Est. National PAID QHP Selections</text><text class="lg" x="1566.3" y="241.5" textLength="154.1" lengthAdjust="spacingAndGlyphs" style="font-size:24px;font-weight:normal;font-stretch:condensed;fill:#0000FF;stroke:#0000FF;stroke-width:0.9px">(11,454,000)</text>
<text class="lg" x="1105.4" y="451.4" textLength="32.4" lengthAdjust="spacingAndGlyphs" style="font-size:24px;font-stretch:condensed;fill:#fff;stroke:#fff;stroke-width:5px;stroke-linejoin:round;opacity:0.85">&lt;&lt;</text><text class="lg" x="1143.4" y="451.4" textLength="418.7" lengthAdjust="spacingAndGlyphs" style="font-size:24px;font-stretch:condensed;fill:#fff;stroke:#fff;stroke-width:5px;stroke-linejoin:round;opacity:0.85">Confirmed HC.gov QHP Selections</text><text class="lg" x="1569.4" y="451.4" textLength="137.6" lengthAdjust="spacingAndGlyphs" style="font-size:24px;font-weight:normal;font-stretch:condensed;fill:#fff;stroke:#fff;stroke-width:5px;stroke-linejoin:round;opacity:0.85">(9,075,291)</text><text class="lg" x="1105.4" y="451.4" textLength="32.4" lengthAdjust="spacingAndGlyphs" style="font-size:24px;font-stretch:condensed;fill:#0000FF">&lt;&lt;</text><text class="lg" x="1143.4" y="451.4" textLength="418.7" lengthAdjust="spacingAndGlyphs" style="font-size:24px;font-stretch:condensed;fill:#0000FF">Confirmed HC.gov QHP Selections</text><text class="lg" x="1569.4" y="451.4" textLength="137.6" lengthAdjust="spacingAndGlyphs" style="font-size:24px;font-weight:normal;font-stretch:condensed;fill:#0000FF;stroke:#0000FF;stroke-width:0.9px">(9,075,291)</text>
<text class="bi halo" x="1977.9" y="24" text-anchor="end" textLength="202" lengthAdjust="spacingAndGlyphs" style="font-size:17.8px;fill:#000;stroke-width:7px" >13.7 Million Selected (?)</text>
<text class="bi halo" x="1977.9" y="146.3" text-anchor="end" textLength="166.5" lengthAdjust="spacingAndGlyphs" style="font-size:17.8px;fill:#000;stroke-width:7px" >12.4 Million Paid (?)</text>
<text class="bi halo" x="1977.9" y="310.8" text-anchor="end" textLength="221.9" lengthAdjust="spacingAndGlyphs" style="font-size:17.8px;fill:#000;stroke-width:7px" >10.5 Million via HC.gov (?)</text>
<text class="bi halo" x="902" y="324.6" textLength="702" lengthAdjust="spacingAndGlyphs" style="font-size:20px;fill:#000;stroke-width:4.5px" >Estimated Effectuated Enrollments: 10.3 Million Thru Most of Summer/Fall</text>
<text class="bi" x="94.5" y="660.5" style="font-size:14.4px;fill:#000" >6.6M</text>
<text class="bi" x="167.5" y="705.5" style="font-size:14.4px;fill:#000" >6.3M</text>
<text class="bi" x="305.5" y="575" style="font-size:14.4px;fill:#000" >7.8M</text>
<text class="bi" x="449" y="522.5" style="font-size:14.4px;fill:#000" >8.4M</text>
<text class="bi" x="575.6" y="381.7" style="font-size:14.4px;fill:#000" >10.2M</text>
<text class="bi" x="720" y="376.9" style="font-size:14.4px;fill:#000" >10.1M</text>
<text class="bi halo" x="683" y="796.8" textLength="859" lengthAdjust="spacingAndGlyphs" style="font-size:36px;fill:#000;stroke-width:5px" >ACASignups.net: The 2015 QHP Enrollment Graph</text>
<text class="bi halo" x="681" y="818.3" textLength="1041" lengthAdjust="spacingAndGlyphs" style="font-size:18px;fill:#000;stroke-width:5px" >w/ACASignups.net projections based on HHS Dept./State Exchange data &amp; estimates by Charles Gaba w/help from others</text>
<text class="bi halo" x="681" y="861" textLength="543" lengthAdjust="spacingAndGlyphs" style="font-size:18px;fill:#000;stroke-width:5px" >Does not include OFF-exchange QHPs, Medicaid/CHIP or SHOP</text>
<text class="lg halo" x="1573.8" y="880.6" textLength="423.6" lengthAdjust="spacingAndGlyphs" style="font-size:18px;font-style:italic;fill:#FF0000;font-stretch:condensed;stroke-width:4px">Appx. 2.1 million Est. Effectuated Enrollments</text>
<text class="lg halo" x="1573.8" y="902.2" textLength="405.7" lengthAdjust="spacingAndGlyphs" style="font-size:18px;font-style:italic;fill:#FF0000;font-stretch:condensed;stroke-width:4px">in aftermath of King v. Burwell plaintiff win</text>
<text class="lg halo" x="1573.8" y="923.9" textLength="382.9" lengthAdjust="spacingAndGlyphs" style="font-size:18px;font-style:italic;fill:#FF0000;font-stretch:condensed;stroke-width:4px">without action on part of either Congress</text>
<text class="lg halo" x="1573.8" y="945.5" textLength="161.1" lengthAdjust="spacingAndGlyphs" style="font-size:18px;font-style:italic;fill:#FF0000;font-stretch:condensed;stroke-width:4px">or 34 FFM States:</text>
<text class="lg halo" x="1573.8" y="967.2" textLength="384.1" lengthAdjust="spacingAndGlyphs" style="font-size:18px;font-style:italic;fill:#FF0000;font-stretch:condensed;stroke-width:4px">Appx. 6.5 million losing coverage directly</text>
<text class="lg halo" x="1573.8" y="988.8" textLength="231.9" lengthAdjust="spacingAndGlyphs" style="font-size:18px;font-style:italic;fill:#FF0000;font-stretch:condensed;stroke-width:4px">due to loss of tax credits;</text>
<text class="lg halo" x="1573.8" y="1010.4" textLength="355.0" lengthAdjust="spacingAndGlyphs" style="font-size:18px;font-style:italic;fill:#FF0000;font-stretch:condensed;stroke-width:4px">Appx. 1.5 - 2.0 million losing coverage</text>
<text class="lg halo" x="1573.8" y="1032.1" textLength="354.6" lengthAdjust="spacingAndGlyphs" style="font-size:18px;font-style:italic;fill:#FF0000;font-stretch:condensed;stroke-width:4px">due to excessive rate hikes/companies</text>
<text class="lg halo" x="1573.8" y="1053.7" textLength="299.8" lengthAdjust="spacingAndGlyphs" style="font-size:18px;font-style:italic;fill:#FF0000;font-stretch:condensed;stroke-width:4px">pulling out of individual market.</text>
<text class="lg halo" x="885.8" y="1190.4" textLength="348.5" lengthAdjust="spacingAndGlyphs" style="font-size:18.5px;fill:#000;stroke-width:5px">© Charles Gaba / ACASignups.net</text>
<text class="bi" x="129.2" y="1229.6" text-anchor="middle" style="font-size:18px;fill:#000" >Nov.</text>
<text class="bi" x="231.7" y="1229.6" text-anchor="middle" style="font-size:18px;fill:#000" >December</text>
<text class="bi" x="369.70000000000005" y="1229.6" text-anchor="middle" style="font-size:18px;fill:#000" >January</text>
<text class="bi" x="507.6" y="1229.6" text-anchor="middle" style="font-size:18px;fill:#000" >February</text>
<text class="bi" x="637.6" y="1229.6" text-anchor="middle" style="font-size:18px;fill:#000" >March</text>
<text class="bi" x="779.5" y="1229.6" text-anchor="middle" style="font-size:18px;fill:#000" >April</text>
<text class="bi" x="922.3000000000001" y="1229.6" text-anchor="middle" style="font-size:18px;fill:#000" >May</text>
<text class="bi" x="1065.3" y="1229.6" text-anchor="middle" style="font-size:18px;fill:#000" >June</text>
<text class="bi" x="1205.0" y="1229.6" text-anchor="middle" style="font-size:18px;fill:#000" >July</text>
<text class="bi" x="1343.6" y="1229.6" text-anchor="middle" style="font-size:18px;fill:#000" >August</text>
<text class="bi" x="1485.8999999999999" y="1229.6" text-anchor="middle" style="font-size:18px;fill:#000" >September</text>
<text class="bi" x="1626.5" y="1229.6" text-anchor="middle" style="font-size:18px;fill:#000" >October</text>
<text class="bi" x="1770.1" y="1229.6" text-anchor="middle" style="font-size:18px;fill:#000" >November</text>
<text class="bi" x="1917.8" y="1229.6" text-anchor="middle" style="font-size:18px;fill:#000" >December</text>
</svg></body></html>
